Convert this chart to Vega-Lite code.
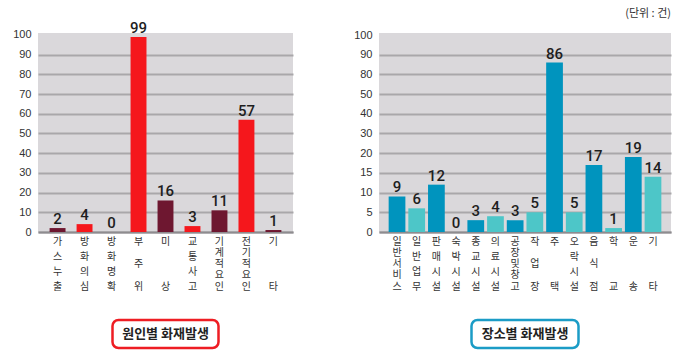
{
  "$schema": "https://vega.github.io/schema/vega-lite/v6.json",
  "background": "white",
  "padding": {"left": 12, "top": 7, "right": 5, "bottom": 5},
  "bounds": "full",
  "spacing": 60,
  "resolve": {"scale": {"color": "independent"}},
  "config": {
    "font": "Liberation Sans",
    "axisY": {
      "title": null, "ticks": false, "domain": false, "labelPadding": 7,
      "labelFontSize": 11, "labelColor": "#333333",
      "gridColor": "#A9A7AA", "gridWidth": 2,
      "gridOpacity": {"condition": {"test": "datum.value >= 100", "value": 0}, "value": 1}
    },
    "axisX": {
      "title": null, "labelAngle": 0, "ticks": false, "domainColor": "#8E8C8F", "domainWidth": 2,
      "labelPadding": 4, "labelFont": "Noto Sans CJK KR", "labelFontSize": 10, "labelColor": "#333333",
      "labelLineHeight": 3.75, "labelBaseline": "top",
      "labelExpr": "[substring(datum.label,0,1),(1*(length(datum.label)-1)%12==0?substring(datum.label,1*(length(datum.label)-1)/12,1*(length(datum.label)-1)/12+1):'\u200b'),(2*(length(datum.label)-1)%12==0?substring(datum.label,2*(length(datum.label)-1)/12,2*(length(datum.label)-1)/12+1):'\u200b'),(3*(length(datum.label)-1)%12==0?substring(datum.label,3*(length(datum.label)-1)/12,3*(length(datum.label)-1)/12+1):'\u200b'),(4*(length(datum.label)-1)%12==0?substring(datum.label,4*(length(datum.label)-1)/12,4*(length(datum.label)-1)/12+1):'\u200b'),(5*(length(datum.label)-1)%12==0?substring(datum.label,5*(length(datum.label)-1)/12,5*(length(datum.label)-1)/12+1):'\u200b'),(6*(length(datum.label)-1)%12==0?substring(datum.label,6*(length(datum.label)-1)/12,6*(length(datum.label)-1)/12+1):'\u200b'),(7*(length(datum.label)-1)%12==0?substring(datum.label,7*(length(datum.label)-1)/12,7*(length(datum.label)-1)/12+1):'\u200b'),(8*(length(datum.label)-1)%12==0?substring(datum.label,8*(length(datum.label)-1)/12,8*(length(datum.label)-1)/12+1):'\u200b'),(9*(length(datum.label)-1)%12==0?substring(datum.label,9*(length(datum.label)-1)/12,9*(length(datum.label)-1)/12+1):'\u200b'),(10*(length(datum.label)-1)%12==0?substring(datum.label,10*(length(datum.label)-1)/12,10*(length(datum.label)-1)/12+1):'\u200b'),(11*(length(datum.label)-1)%12==0?substring(datum.label,11*(length(datum.label)-1)/12,11*(length(datum.label)-1)/12+1):'\u200b'),substring(datum.label,length(datum.label)-1,length(datum.label))]"
    }
  },
  "hconcat": [
    {
      "bounds": "flush",
      "center": true,
      "spacing": 88,
      "vconcat": [
        {
          "width": 255,
          "height": 199,
          "view": {"fill": "#DAD8DB", "stroke": null},
          "data": {"values": [
            {"cause": "가스누출", "count": 2, "g": "a"},
            {"cause": "방화의심", "count": 4, "g": "b"},
            {"cause": "방화명확", "count": 0, "g": "a"},
            {"cause": "부주위", "count": 99, "g": "b"},
            {"cause": "미상", "count": 16, "g": "a"},
            {"cause": "교통사고", "count": 3, "g": "b"},
            {"cause": "기계적요인", "count": 11, "g": "a"},
            {"cause": "전기적요인", "count": 57, "g": "b"},
            {"cause": "기타", "count": 1, "g": "a"}
          ]},
          "encoding": {
            "x": {"field": "cause", "type": "nominal", "sort": null,
                  "scale": {"paddingInner": 0.41, "paddingOuter": 0.43}},
            "y": {"field": "count", "type": "quantitative",
                  "scale": {"domain": [0, 101], "nice": false},
                  "axis": {"values": [0, 10, 20, 30, 40, 50, 60, 70, 80, 90, 100]}}
          },
          "layer": [
            {
              "mark": {"type": "bar"},
              "encoding": {
                "color": {"field": "g", "type": "nominal", "legend": null,
                          "scale": {"domain": ["a", "b"], "range": ["#6E1730", "#F5171C"]}}
              }
            },
            {
              "mark": {"type": "text", "baseline": "alphabetic", "dy": -4, "font": "Roboto", "fontWeight": 500, "fontSize": 15, "color": "#1E1E1E"},
              "encoding": {"text": {"field": "count", "type": "quantitative"}}
            }
          ]
        },
        {
          "width": 106,
          "height": 28,
          "view": {"stroke": "#EE1D23", "strokeWidth": 2.5, "cornerRadius": 6, "fill": "white"},
          "data": {"values": [{"t": "원인별 화재발생"}]},
          "mark": {"type": "text", "font": "Noto Sans CJK KR", "fontSize": 13, "fontWeight": "bold", "color": "#222222"},
          "encoding": {"text": {"field": "t", "type": "nominal"}}
        }
      ]
    },
    {
      "bounds": "flush",
      "center": true,
      "spacing": 88,
      "vconcat": [
        {
          "width": 292,
          "height": 199,
          "view": {"fill": "#DAD8DB", "stroke": null},
          "title": {"text": "(단위 : 건)", "anchor": "end", "fontSize": 11, "fontWeight": "normal",
                    "font": "Noto Sans CJK KR", "color": "#333333", "offset": 10.5},
          "data": {"values": [
            {"place": "일반서비스", "count": 9, "g": "c"},
            {"place": "일반업무", "count": 6, "g": "d"},
            {"place": "판매시설", "count": 12, "g": "c"},
            {"place": "숙박시설", "count": 0, "g": "d"},
            {"place": "종교시설", "count": 3, "g": "c"},
            {"place": "의료시설", "count": 4, "g": "d"},
            {"place": "공장및창고", "count": 3, "g": "c"},
            {"place": "작업장", "count": 5, "g": "d"},
            {"place": "주택", "count": 86, "g": "c"},
            {"place": "오락시설", "count": 5, "g": "d"},
            {"place": "음식점", "count": 17, "g": "c"},
            {"place": "학교", "count": 1, "g": "d"},
            {"place": "운송", "count": 19, "g": "c"},
            {"place": "기타", "count": 14, "g": "d"}
          ]},
          "encoding": {
            "x": {"field": "place", "type": "nominal", "sort": null,
                  "scale": {"paddingInner": 0.15, "paddingOuter": 0.49}},
            "y": {"field": "count", "type": "quantitative",
                  "scale": {"domain": [0, 20, 50, 80, 100], "range": [199, 120.1, 61.1, 41.4, 2], "nice": false, "zero": false},
                  "axis": {"values": [0, 5, 10, 15, 20, 30, 40, 50, 80, 90, 100]}}
          },
          "layer": [
            {
              "mark": {"type": "bar"},
              "encoding": {
                "color": {"field": "g", "type": "nominal", "legend": null,
                          "scale": {"domain": ["c", "d"], "range": ["#0094BE", "#4DC6C8"]}}
              }
            },
            {
              "mark": {"type": "text", "baseline": "alphabetic", "dy": -4, "font": "Roboto", "fontWeight": 500, "fontSize": 15, "color": "#1E1E1E"},
              "encoding": {"text": {"field": "count", "type": "quantitative"}}
            }
          ]
        },
        {
          "width": 107,
          "height": 28,
          "view": {"stroke": "#1B9CC6", "strokeWidth": 2.5, "cornerRadius": 6, "fill": "white"},
          "data": {"values": [{"t": "장소별 화재발생"}]},
          "mark": {"type": "text", "font": "Noto Sans CJK KR", "fontSize": 13, "fontWeight": "bold", "color": "#222222"},
          "encoding": {"text": {"field": "t", "type": "nominal"}}
        }
      ]
    }
  ]
}
